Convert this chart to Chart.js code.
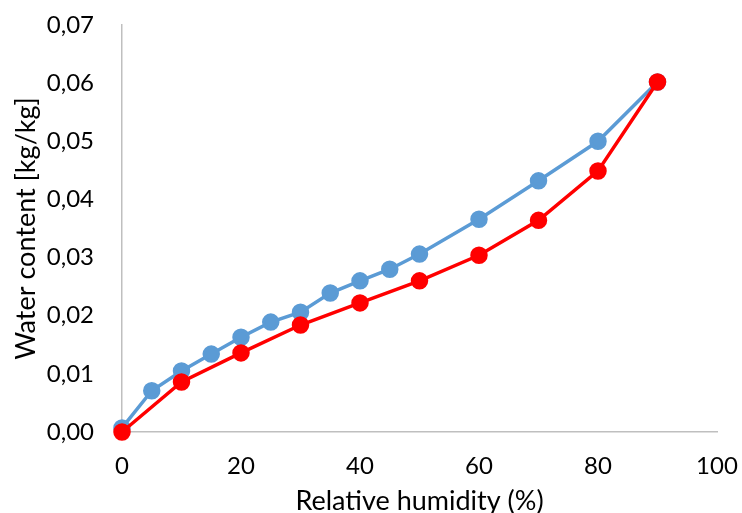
<!DOCTYPE html>
<html lang="en">
<head>
  <meta charset="UTF-8">
  <title>Water content</title>
  <script src="https://cdn.jsdelivr.net/npm/chart.js"></script>
  <style>
    body {
      margin: 0;
      padding: 0;
      background: #fff;
    }
    #wrap {
      width: 742px;
      height: 513px;
    }
  </style>
</head>
<body>
  <div id="wrap"><canvas id="chart" width="742" height="513"></canvas></div>

  <script>
    // relative humidity (%) and water content (kg/kg)
    const blueRH = [0, 5, 10, 15, 20, 25, 30, 35, 40, 45, 50, 60, 70, 80, 90];
    const blueWC = [0.0007, 0.0071, 0.0105, 0.0134, 0.0163, 0.0189, 0.0206, 0.0239, 0.0260, 0.0280, 0.0306, 0.0366, 0.0432, 0.0500, 0.0602];

    const redRH = [0, 10, 20, 30, 40, 50, 60, 70, 80, 90];
    const redWC = [0.0000, 0.0086, 0.0136, 0.0184, 0.0222, 0.0260, 0.0304, 0.0364, 0.0449, 0.0602];

    const toPoints = (xs, ys) => xs.map((x, i) => ({x: x, y: ys[i]}));
    const fontName = 'Lato, "Open Sans", sans-serif';

    const config = {
      type: 'line',
      data: {
        datasets: [
          {
            label: 'red',
            data: toPoints(redRH, redWC),
            borderColor: '#ff0000',
            backgroundColor: '#ff0000',
            borderWidth: 3.5,
            pointRadius: 7,
            pointHoverRadius: 7,
            tension: 0,
            clip: false
          },
          {
            label: 'blue',
            data: toPoints(blueRH, blueWC),
            borderColor: '#5b9bd5',
            backgroundColor: '#5b9bd5',
            borderWidth: 3.5,
            pointRadius: 7,
            pointHoverRadius: 7,
            tension: 0,
            clip: false
          }
        ]
      },
      options: {
        responsive: false,
        animation: false,
        layout: {padding: {left: 0, right: 25, top: 25, bottom: 0}},
        plugins: {
          legend: {display: false},
          tooltip: {enabled: false}
        },
        scales: {
          x: {
            type: 'linear',
            min: 0,
            max: 100,
            grid: {display: false, drawTicks: false},
            border: {display: true, color: '#bfbfbf', width: 1.5},
            ticks: {
              stepSize: 20,
              padding: 20,
              color: '#000',
              font: {family: fontName, size: 24}
            },
            title: {
              display: true,
              text: 'Relative humidity (%)',
              color: '#000',
              font: {family: fontName, size: 27},
              padding: {top: 0, bottom: -4}
            },
            afterFit: (scale) => {
              scale.height = 81;
              scale.paddingLeft = 0;
              scale.paddingRight = 0;
            }
          },
          y: {
            min: 0,
            max: 0.07,
            grid: {display: false, drawTicks: false},
            border: {display: true, color: '#bfbfbf', width: 1.5},
            ticks: {
              stepSize: 0.01,
              padding: 28,
              color: '#000',
              font: {family: fontName, size: 24},
              callback: (v) => v.toFixed(2).replace('.', ',')
            },
            title: {
              display: true,
              text: 'Water content [kg/kg]',
              color: '#000',
              font: {family: fontName, size: 27},
              padding: {top: 10, bottom: 4}
            },
            afterFit: (scale) => {
              scale.width = 122;
              scale.paddingTop = 0;
              scale.paddingBottom = 0;
            }
          }
        }
      }
    };

    new Chart(document.getElementById('chart').getContext('2d'), config);
  </script>
</body>
</html>
